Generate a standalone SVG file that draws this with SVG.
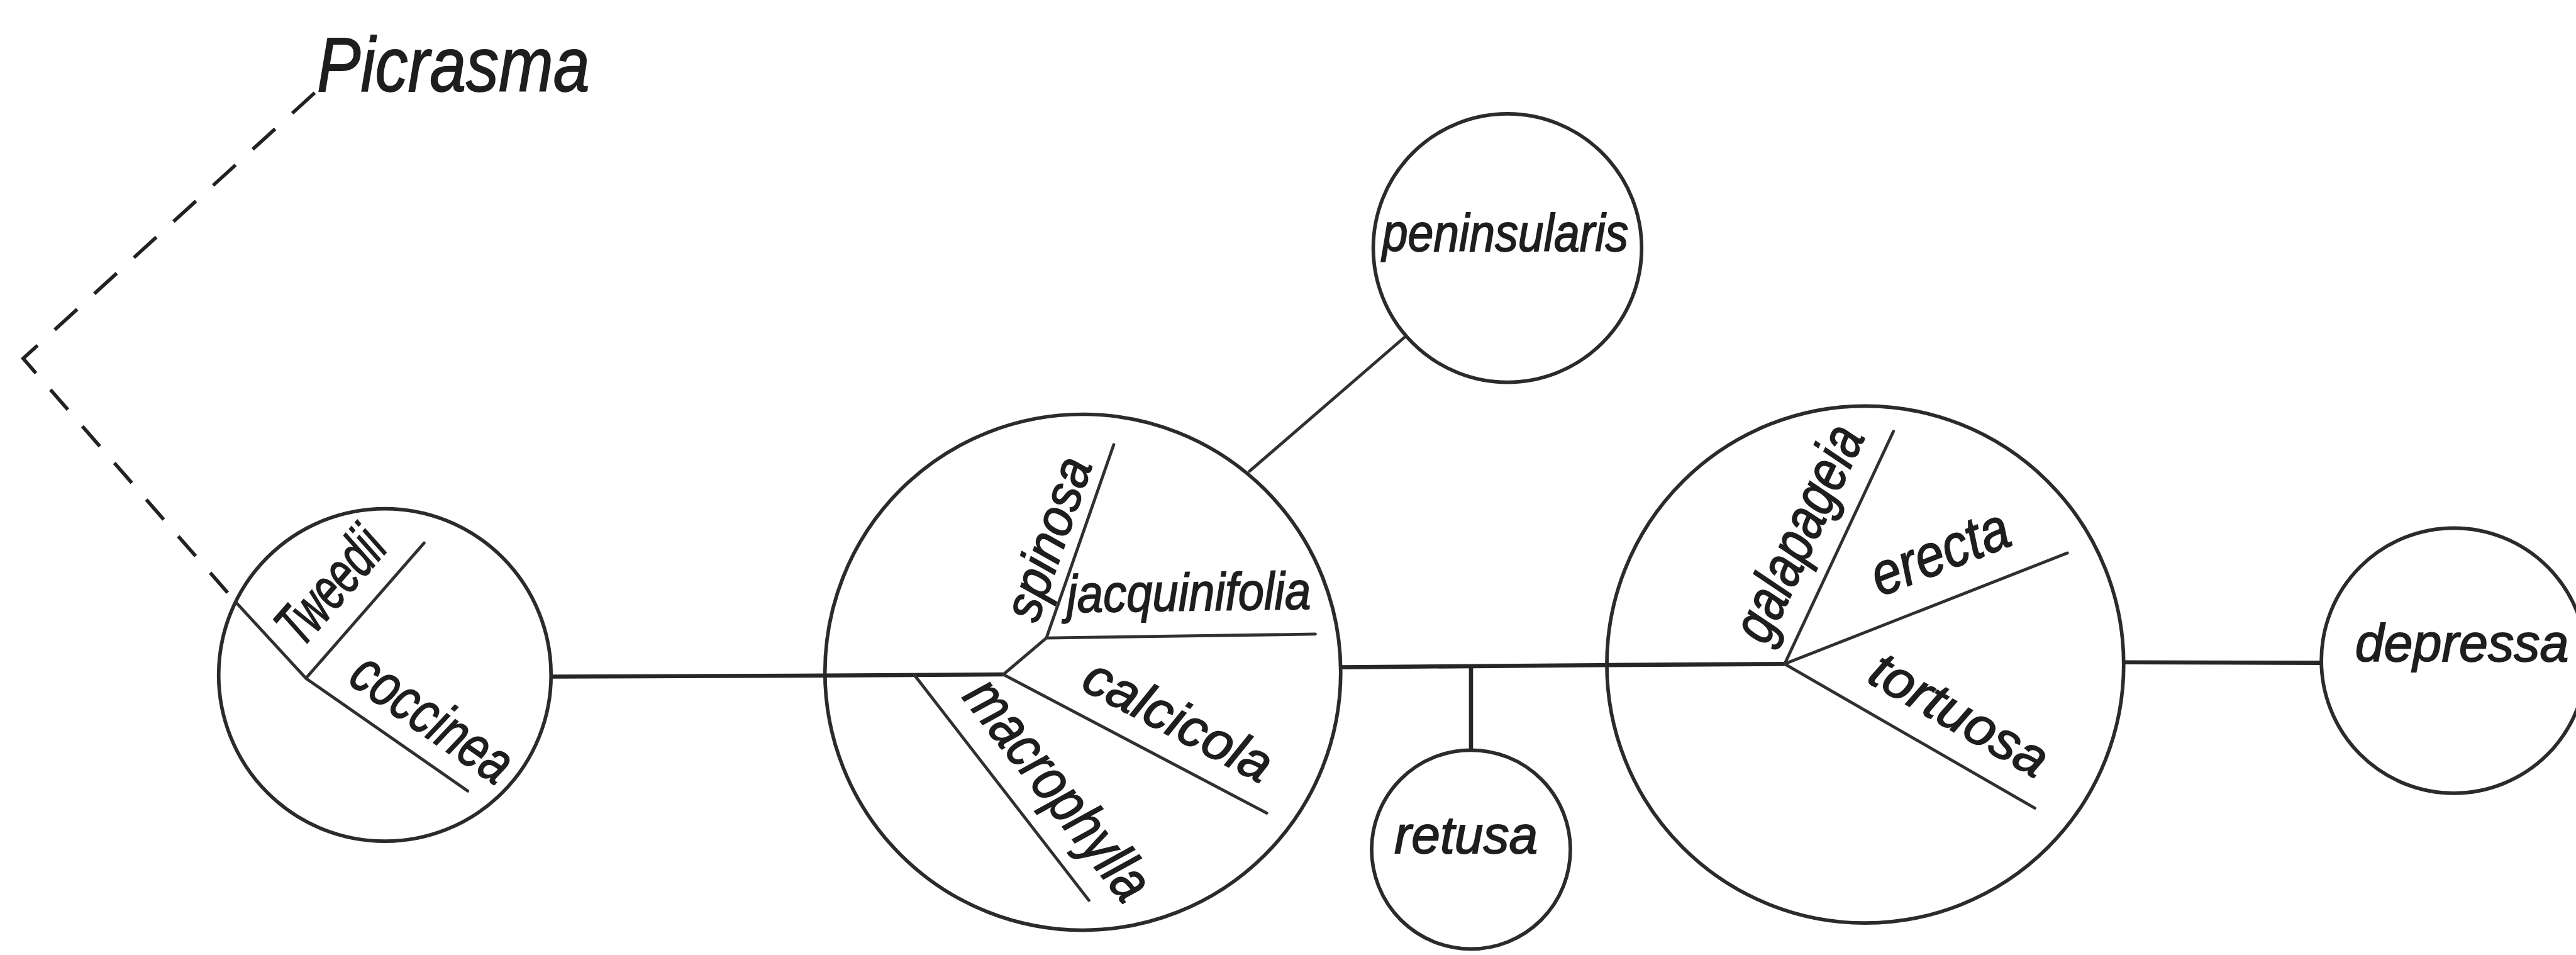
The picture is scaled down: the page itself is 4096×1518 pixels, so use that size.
<svg xmlns="http://www.w3.org/2000/svg" width="4096" height="1518" viewBox="0 0 4096 1518">
<style>
  .ring { fill: none; stroke: #2b2b2b; stroke-width: 6.5; }
  .edge { fill: none; stroke: #262626; stroke-width: 7.5; }
  .div  { fill: none; stroke: #303030; stroke-width: 5.5; stroke-linecap: round; stroke-linejoin: round; }
  .dash { fill: none; stroke: #222; stroke-width: 6.5; stroke-linecap: butt; stroke-linejoin: miter; }
  text  { font-family: "Liberation Sans", "DejaVu Sans", sans-serif; font-style: italic; fill: #1e1e1e; stroke: #1e1e1e; stroke-width: 2; }
  .lbl  { font-size: 96px; }
  .big  { font-size: 108px; }
  .genus { font-size: 140px; }
</style>
<rect width="4096" height="1518" fill="#ffffff"/>
<g transform="scale(0.878)">

  <!-- links between the groups -->
  <g id="connectors">
    <!-- dashed link to the outgroup -->
    <path class="dash" d="M570,168 L529.3,205 M498.3,233.3 L457.6,270.4 M426.6,298.7 L385.9,335.7 M354.9,364 L314.2,401 M283.2,429.3 L242.5,466.4 M211.4,494.7 L170.8,531.7 M139.7,560 L99.1,597 M68,625.3 L42,649 L65,675.4 M91.3,705.5 L122.9,741.7 M149.2,771.8 L180.8,808 M207.1,838.1 L238.7,874.2 M265,904.4 L296.5,940.5 M322.8,970.7 L354.4,1006.8 M380.7,1036.9 L412.3,1073.1"/>
    <path class="edge" d="M998,1225 L1494,1223"/>
    <path class="edge" d="M2428,1208 L2910,1204"/>
    <path class="edge" d="M2664,1207 L2664,1358"/>
    <path class="edge" d="M3846,1199 L4204,1200"/>
    <path class="div" d="M2263,853 L2543,611"/>
  </g>

  <g id="node-picrasma">
    <text class="genus" x="574" y="165" textLength="494" lengthAdjust="spacingAndGlyphs">Picrasma</text>
  </g>

  <g id="node-tweedii-coccinea">
    <circle class="ring" cx="697" cy="1222" r="301"/>
    <path class="div" d="M427,1090 L554,1228 L768,983 M554,1228 L847,1432"/>
    <text class="big" transform="translate(554,1228) rotate(-48.9)" x="34" y="-40" textLength="242" lengthAdjust="spacingAndGlyphs">Tweedii</text>
    <text class="big" transform="translate(554,1228) rotate(34.8)" x="64" y="-36" textLength="330" lengthAdjust="spacingAndGlyphs">coccinea</text>
  </g>

  <g id="node-spinosa-group">
    <circle class="ring" cx="1961" cy="1217" r="467"/>
    <path class="edge" d="M1494,1223 L1817,1221"/>
    <path class="div" d="M1817,1221 L1895,1155 L2017,805 M1895,1155 L2382,1148 M1817,1221 L2294,1472 M1656,1222 L1972,1630"/>
    <text class="lbl" transform="translate(1895,1155) rotate(-70.8)" x="18" y="-24" textLength="306" lengthAdjust="spacingAndGlyphs">spinosa</text>
    <text class="lbl" transform="translate(1895,1155) rotate(-0.8)" x="38" y="-46" textLength="442" lengthAdjust="spacingAndGlyphs">jacquinifolia</text>
    <text class="lbl" transform="translate(1817,1221) rotate(27.8)" x="133" y="-42" textLength="372" lengthAdjust="spacingAndGlyphs">calcicola</text>
    <text class="big" transform="translate(1656,1222) rotate(52)" x="84" y="-42" textLength="478" lengthAdjust="spacingAndGlyphs">macrophylla</text>
  </g>

  <g id="node-peninsularis">
    <circle class="ring" cx="2730" cy="449" r="243"/>
    <text class="lbl" x="2503" y="454" textLength="446" lengthAdjust="spacingAndGlyphs">peninsularis</text>
  </g>

  <g id="node-retusa">
    <circle class="ring" cx="2664" cy="1538" r="180"/>
    <text class="lbl" x="2525" y="1544" textLength="260" lengthAdjust="spacingAndGlyphs">retusa</text>
  </g>

  <g id="node-erecta-group">
    <circle class="ring" cx="3378" cy="1203" r="468"/>
    <path class="edge" d="M2910,1204 L3232,1202"/>
    <path class="div" d="M3232,1202 L3429,781 M3232,1202 L3744,1001 M3232,1202 L3685,1463"/>
    <text class="big" transform="translate(3232,1202) rotate(-64.9)" x="15" y="-42" textLength="420" lengthAdjust="spacingAndGlyphs">galapageia</text>
    <text class="big" transform="translate(3232,1202) rotate(-21.4)" x="205" y="-50" textLength="261" lengthAdjust="spacingAndGlyphs">erecta</text>
    <text class="lbl" transform="translate(3232,1202) rotate(29.9)" x="142" y="-46" textLength="356" lengthAdjust="spacingAndGlyphs">tortuosa</text>
  </g>

  <g id="node-depressa">
    <circle class="ring" cx="4444" cy="1196" r="240"/>
    <text class="lbl" x="4265" y="1197" textLength="387" lengthAdjust="spacingAndGlyphs">depressa</text>
  </g>

</g>
</svg>
